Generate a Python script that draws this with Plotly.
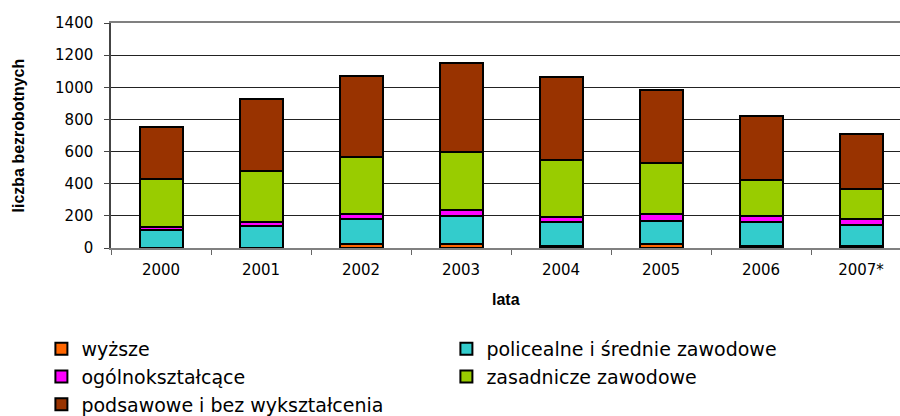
import plotly.graph_objects as go

years = ["2000", "2001", "2002", "2003", "2004", "2005", "2006", "2007*"]
wyzsze = [3, 3, 25, 25, 15, 23, 15, 15]
policealne = [107, 134, 156, 174, 147, 148, 149, 131]
ogolno = [22, 23, 29, 36, 29, 43, 35, 35]
zasadnicze = [300, 320, 357, 363, 355, 318, 227, 189]
podstawowe = [322, 448, 503, 551, 516, 449, 396, 340]

series = [
    ("wyższe", wyzsze, "#FF6600", "legend"),
    ("policealne i średnie zawodowe", policealne, "#33CCCC", "legend2"),
    ("ogólnokształcące", ogolno, "#FF00FF", "legend"),
    ("zasadnicze zawodowe", zasadnicze, "#99CC00", "legend2"),
    ("podsawowe i bez wykształcenia", podstawowe, "#993300", "legend"),
]

FONT = "DejaVu Sans, Liberation Sans, Arial, sans-serif"
BOLD = "Liberation Sans, Arial, sans-serif"

fig = go.Figure()
for name, vals, col, leg in series:
    fig.add_trace(go.Bar(
        x=years, y=vals, name=name, legend=leg, legendgroup=name,
        marker=dict(color=col, line=dict(color="#000000", width=2)),
        width=0.43,
    ))

legfont = dict(size=19, family=FONT, color="#000000")
legcommon = dict(
    orientation="v", xref="container", yref="container",
    yanchor="top", xanchor="left",
    traceorder="normal", font=legfont, tracegroupgap=6,
    bgcolor="rgba(0,0,0,0)",
)

fig.update_layout(
    width=900, height=416,
    barmode="stack",
    paper_bgcolor="white", plot_bgcolor="white",
    margin=dict(l=111, r=0, t=23, b=168, autoexpand=False),
    font=dict(family=FONT, color="#000000"),
    showlegend=True,
    legend=dict(x=0.046, y=0.207, **legcommon),
    legend2=dict(x=0.496, y=0.207, **legcommon),
    annotations=[
        dict(text="<b>lata</b>", xref="paper", yref="paper", x=0.5, y=0,
             yshift=-51, xanchor="center", yanchor="middle", showarrow=False,
             font=dict(size=16, family=BOLD, color="#000000")),
        dict(text="<b>liczba bezrobotnych</b>", xref="paper", yref="paper", x=0, y=0.5,
             xshift=-93, xanchor="center", yanchor="middle", textangle=-90, showarrow=False,
             font=dict(size=16, family=BOLD, color="#000000")),
    ],
)

fig.update_xaxes(
    range=[-0.5, 7.39],
    showline=True, linecolor="#808080", linewidth=2, mirror=True,
    ticks="outside", tickson="boundaries", ticklen=5, tickcolor="#666666",
    tickfont=dict(size=15),
    ticklabelstandoff=7,
    showgrid=False, automargin=False,
)
fig.update_yaxes(
    range=[0, 1400], dtick=200,
    showline=True, linecolor="#444444", linewidth=1.5,
    ticks="outside", ticklen=5, tickcolor="#444444",
    tickfont=dict(size=15),
    ticklabelstandoff=8,
    showgrid=True, gridcolor="#222222", gridwidth=1,
    zeroline=False, automargin=False,
)

post = """
var s = document.createElement('style');
s.textContent = 'html,body{margin:0;padding:0;}';
document.head.appendChild(s);
"""
fig.write_html("out.html", post_script=post, config={"displayModeBar": False})
